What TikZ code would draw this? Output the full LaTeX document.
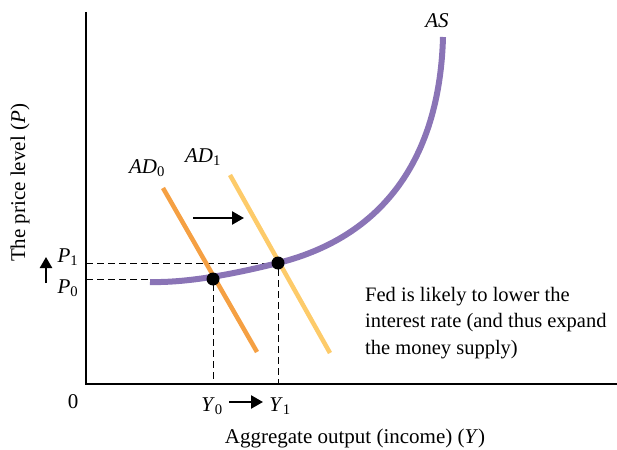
\documentclass[tikz,border=0pt]{standalone}
\usepackage{fontspec}
\setmainfont{Liberation Serif}
\usetikzlibrary{arrows.meta}
\definecolor{aspurple}{HTML}{8A74B6}
\definecolor{adorange}{HTML}{F5A043}
\definecolor{adyellow}{HTML}{FDCB6A}
\tikzset{
  axis/.style={line width=1.3pt, black},
  guide/.style={dashed, dash pattern=on 7pt off 4pt, line width=0.9pt},
  eqdot/.style={circle, fill=black, inner sep=0pt, minimum size=13pt},
  lbl/.style={font=\fontsize{21}{25}\selectfont, inner sep=0pt},
  shiftarrow/.style={line width=2.4pt, -{Triangle[length=12pt,width=13pt]}},
}
\begin{document}
\begin{tikzpicture}[x=1pt,y=-1pt]
\useasboundingbox (0,0) rectangle (617,449);
% axes
\coordinate (top) at (86,12);
\coordinate (orig) at (86,384);
\coordinate (xend) at (617,384);
\draw[axis] (top) -- (orig) -- (xend);
% equilibrium points
\coordinate (E0) at (213,279);
\coordinate (E1) at (278,263);
\coordinate (P0a) at (86,279);
\coordinate (P1a) at (86,263);
\coordinate (Y0a) at (213,384);
\coordinate (Y1a) at (278,384);
\draw[guide] (P0a) -- (E0) -- (Y0a);
\draw[guide] (P1a) -- (E1) -- (Y1a);
% AD curves
\coordinate (ad0s) at (163,188);
\coordinate (ad0e) at (257,352);
\coordinate (ad1s) at (230,175);
\coordinate (ad1e) at (330,353);
\draw[adorange, line width=4.5pt] (ad0s) -- (ad0e);
\draw[adyellow, line width=4.5pt] (ad1s) -- (ad1e);
% AS curve
\coordinate (as0) at (150,282);
\coordinate (as1) at (443,37);
\draw[aspurple, line width=6pt] (as0) .. controls (190,283) and (240,272.5) .. (E1)
  .. controls (390,235) and (440,150) .. (as1);
\node[eqdot] (e0) at (E0) {};
\node[eqdot] (e1) at (E1) {};
% shift arrow
\coordinate (sa) at (193,218);
\coordinate (sb) at (244,218);
\draw[shiftarrow] (sa) -- (sb);
% labels
\node[lbl] (las) at (437,21) {\textit{AS}};
\node[lbl] (lad0) at (147,168) {\textit{AD}\textsubscript{0}};
\node[lbl] (lad1) at (203,157) {\textit{AD}\textsubscript{1}};
\node[lbl] (lzero) at (73,402) {0};
\node[lbl] (ly0) at (212,406) {\textit{Y}\textsubscript{0}};
\node[lbl] (ly1) at (280,406) {\textit{Y}\textsubscript{1}};
\node[lbl] (lp1) at (68,257) {\textit{P}\textsubscript{1}};
\node[lbl] (lp0) at (68,288) {\textit{P}\textsubscript{0}};
\coordinate (ya) at (229,402);
\coordinate (yb) at (263,402);
\draw[shiftarrow] (ya) -- (yb);
\coordinate (pa) at (46,283);
\coordinate (pb) at (46,257);
\draw[shiftarrow, -{Triangle[length=11pt,width=12pt]}] (pa) -- (pb);
\node[lbl, rotate=90] (lyax) at (20,183) {The price level (\textit{P})};
\node[lbl] (lxax) at (355,438) {Aggregate output (income) (\textit{Y})};
\node[lbl, anchor=north west, align=left, font=\fontsize{20.5}{26.5}\selectfont] (note) at (365,287) {Fed is likely to lower the\\interest rate (and thus expand\\the money supply)};
\end{tikzpicture}
\end{document}
